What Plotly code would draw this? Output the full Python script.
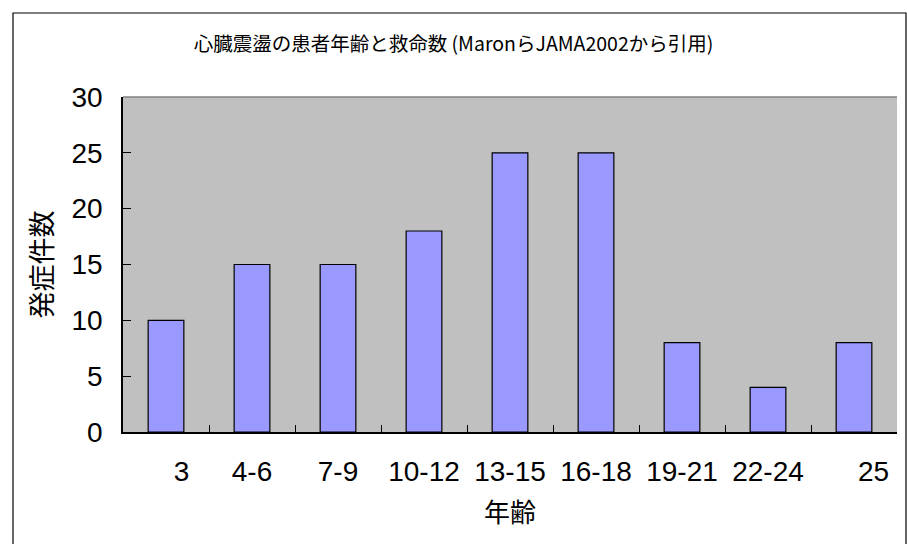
import plotly.graph_objects as go

categories = ["3", "4-6", "7-9", "10-12", "13-15", "16-18", "19-21", "22-24", "25"]
NB = "\u00a0"
tick_labels = [NB * 4 + "3", "4-6", "7-9", "10-12", "13-15", "16-18", "19-21", "22-24", NB * 5 + "25"]
counts = [10, 15, 15, 18, 25, 25, 8, 4, 8]
y_ticks = [0, 5, 10, 15, 20, 25, 30]

W, H = 907, 544
L, R, T, B = 123, 10, 97, 112
pw = W - L - R
ph = H - T - B

def px(x):
    return (x - L) / pw

def py(y):
    return (H - B - y) / ph

fig = go.Figure()
fig.add_trace(go.Bar(
    x=categories, y=counts,
    marker=dict(color="#9999FF", line=dict(color="#000000", width=1.2)),
))

fig.update_layout(
    width=W, height=H,
    margin=dict(l=L, r=R, t=T, b=B),
    paper_bgcolor="white",
    plot_bgcolor="#C0C0C0",
    bargap=0.585,
    showlegend=False,
    font=dict(family="Liberation Sans, Arial, sans-serif", color="black"),
    title=dict(
        text="心臓震盪の患者年齢と救命数 (MaronらJAMA2002から引用)",
        font=dict(family="Noto Sans CJK JP", size=19.5, color="black"),
        x=0.5, xanchor="center", y=1 - 44 / H, yanchor="middle",
    ),
)
fig.update_xaxes(
    type="category",
    tickmode="array", tickvals=categories, ticktext=tick_labels,
    tickson="boundaries",
    ticks="inside", ticklen=7, tickcolor="black", tickwidth=1,
    showline=True, linecolor="black", linewidth=1.5,
    showgrid=False,
    tickfont=dict(size=28, family="Liberation Sans, Arial, sans-serif"),
    ticklabelstandoff=14,
    title=dict(text="年齢", font=dict(family="Noto Sans CJK JP", size=26), standoff=17),
)
fig.update_yaxes(
    range=[0, 30], tickvals=y_ticks,
    ticks="inside", ticklen=8, tickcolor="black", tickwidth=1,
    showline=True, linecolor="black", linewidth=1.5,
    showgrid=False, zeroline=False,
    tickfont=dict(size=28, family="Liberation Sans, Arial, sans-serif"),
    ticklabelstandoff=13,
    title=dict(text="発症件数", font=dict(family="Noto Sans CJK JP", size=27), standoff=11),
)

# plot area top gray border
fig.add_shape(type="line", xref="paper", yref="paper", x0=0, x1=1, y0=1, y1=1,
              line=dict(color="#808080", width=1.5))
# outer chart border
fig.add_shape(type="rect", xref="paper", yref="paper",
              x0=px(13), x1=px(906), y0=py(560), y1=py(13),
              line=dict(color="black", width=1.2), fillcolor="rgba(0,0,0,0)", layer="above")

fig.write_html("out.html", config={"displayModeBar": False},
               post_script="document.body.style.margin='0';")
